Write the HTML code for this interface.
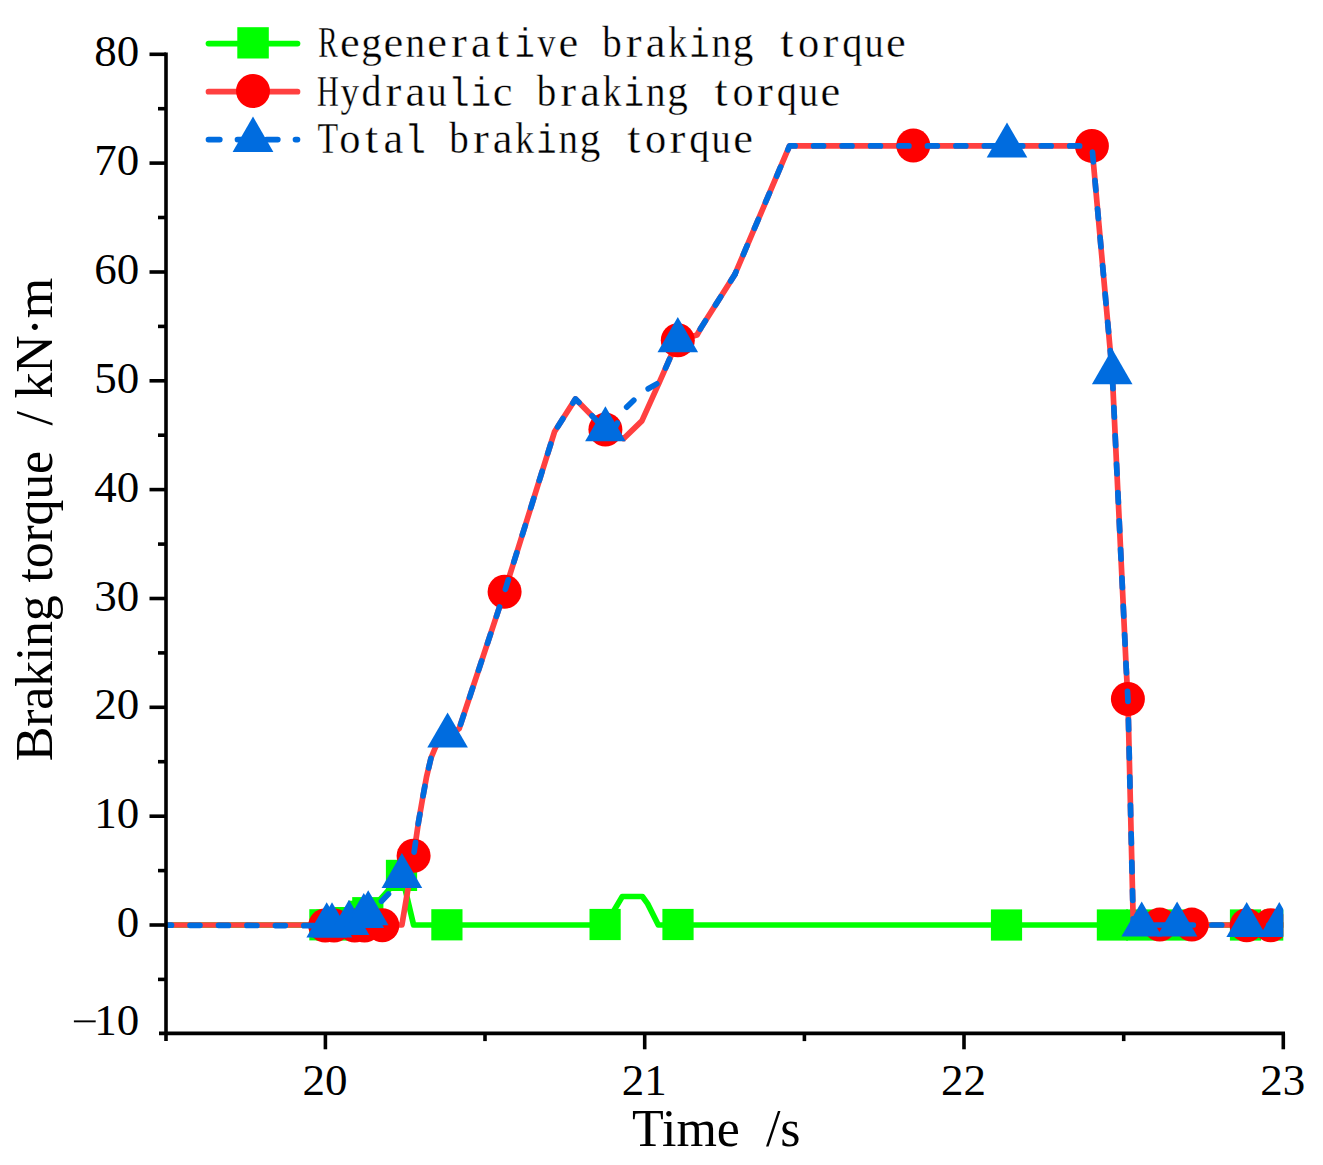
<!DOCTYPE html>
<html><head><meta charset="utf-8"><style>
html,body{margin:0;padding:0;background:#fff;}
svg{display:block;}
</style></head><body>
<svg width="1323" height="1165" viewBox="0 0 1323 1165">
<rect width="1323" height="1165" fill="#fff"/>
<defs><clipPath id="pc"><rect x="166.0" y="40" width="1117.3" height="993.4000000000001"/></clipPath></defs><g clip-path="url(#pc)"><polyline points="100.0,925.0 326.5,925.0 332.0,925.0 349.0,922.6 364.0,916.3 368.2,912.7 401.9,875.4 413.6,925.0 605.4,925.0 622.3,896.5 642.4,896.5 647.7,903.9 658.3,925.0 1300.0,925.0" fill="none" stroke="#00FF00" stroke-width="5.7" stroke-linejoin="round" stroke-linecap="round"/><rect x="309.3" y="909.2" width="31.2" height="31.2" fill="#00FF00"/><rect x="316.4" y="909.4" width="31.2" height="31.2" fill="#00FF00"/><rect x="333.4" y="907.0" width="31.2" height="31.2" fill="#00FF00"/><rect x="348.4" y="900.7" width="31.2" height="31.2" fill="#00FF00"/><rect x="352.2" y="897.1" width="31.2" height="31.2" fill="#00FF00"/><rect x="385.9" y="859.8" width="31.2" height="31.2" fill="#00FF00"/><rect x="431.3" y="909.2" width="31.2" height="31.2" fill="#00FF00"/><rect x="589.5" y="908.9" width="31.2" height="31.2" fill="#00FF00"/><rect x="662.4" y="908.9" width="31.2" height="31.2" fill="#00FF00"/><rect x="990.9" y="909.4" width="31.2" height="31.2" fill="#00FF00"/><rect x="1096.8" y="909.4" width="31.2" height="31.2" fill="#00FF00"/><rect x="1126.1" y="909.4" width="31.2" height="31.2" fill="#00FF00"/><rect x="1161.5" y="909.4" width="31.2" height="31.2" fill="#00FF00"/><rect x="1229.9" y="909.4" width="31.2" height="31.2" fill="#00FF00"/><rect x="1263.7" y="909.4" width="31.2" height="31.2" fill="#00FF00"/><polyline points="100.0,925.0 401.9,925.0 413.6,855.7 418.5,822.0 422.5,799.0 426.5,777.0 431.0,758.0 436.0,746.0 447.6,735.9 456.0,731.0 459.2,728.5 504.6,591.7 554.5,431.8 575.5,398.9 605.4,429.6 623.5,438.7 641.9,420.9 659.3,382.4 677.8,340.3 697.0,335.0 700.9,328.0 734.9,274.4 789.5,145.9 1091.9,145.9 1112.2,372.5 1126.2,668.0 1127.9,699.0 1133.3,925.0 1300.0,925.0" fill="none" stroke="#FF4040" stroke-width="5.7" stroke-linejoin="round" stroke-linecap="round"/><circle cx="325.2" cy="925.5" r="17.0" fill="#FF0000"/><circle cx="334.0" cy="925.5" r="17.0" fill="#FF0000"/><circle cx="354.7" cy="925.5" r="17.0" fill="#FF0000"/><circle cx="364.5" cy="925.5" r="17.0" fill="#FF0000"/><circle cx="382.3" cy="925.2" r="17.0" fill="#FF0000"/><circle cx="413.6" cy="855.7" r="17.0" fill="#FF0000"/><circle cx="504.6" cy="591.7" r="17.0" fill="#FF0000"/><circle cx="605.4" cy="429.6" r="17.0" fill="#FF0000"/><circle cx="677.8" cy="340.3" r="17.0" fill="#FF0000"/><circle cx="913.3" cy="145.5" r="17.0" fill="#FF0000"/><circle cx="1091.9" cy="145.9" r="17.0" fill="#FF0000"/><circle cx="1127.9" cy="699.0" r="17.0" fill="#FF0000"/><circle cx="1159.8" cy="924.6" r="17.0" fill="#FF0000"/><circle cx="1191.8" cy="924.6" r="17.0" fill="#FF0000"/><circle cx="1246.7" cy="925.2" r="17.0" fill="#FF0000"/><circle cx="1270.7" cy="925.2" r="17.0" fill="#FF0000"/><polyline points="100.0,925.0 326.5,925.7 332.0,925.7 349.0,923.2 364.0,916.8 368.2,914.8 390.0,892.5 401.9,876.4 413.6,855.7" fill="none" stroke="#006CDF" stroke-width="5.7" stroke-linejoin="round" stroke-linecap="round" stroke-dasharray="9.90 18.55" stroke-dashoffset="23.75"/><polyline points="413.6,855.7 418.5,822.0 422.5,799.0 426.5,777.0 431.0,758.0 436.0,746.0 447.6,735.9 456.0,731.0 459.2,728.5 504.6,591.7 554.5,431.8 575.5,398.9 605.4,429.6 612.6,433.0 623.5,410.2 641.9,392.4 659.3,382.4 677.8,340.3 697.0,335.0 700.9,328.0 734.9,274.4" fill="none" stroke="#006CDF" stroke-width="5.7" stroke-linejoin="round" stroke-linecap="round" stroke-dasharray="9.90 18.55" stroke-dashoffset="24.82"/><polyline points="734.9,274.4 789.5,145.9 1091.9,145.9 1112.2,372.5 1126.2,668.0 1127.9,699.0 1133.3,925.0" fill="none" stroke="#006CDF" stroke-width="5.7" stroke-linejoin="round" stroke-linecap="round" stroke-dasharray="9.90 18.55" stroke-dashoffset="6.93"/><polyline points="1133.3,925.0 1300.0,925.0" fill="none" stroke="#006CDF" stroke-width="5.7" stroke-linejoin="round" stroke-linecap="round" stroke-dasharray="9.90 18.55" stroke-dashoffset="6.80"/><polygon points="326.7,902.3 347.0,937.4 306.4,937.4" fill="#006CDF"/><polygon points="332.0,902.3 352.3,937.4 311.7,937.4" fill="#006CDF"/><polygon points="349.0,899.8 369.3,934.9 328.7,934.9" fill="#006CDF"/><polygon points="363.8,892.9 384.1,928.0 343.5,928.0" fill="#006CDF"/><polygon points="368.2,890.2 388.5,925.3 347.9,925.3" fill="#006CDF"/><polygon points="401.9,853.0 422.2,888.1 381.6,888.1" fill="#006CDF"/><polygon points="447.6,712.5 467.9,747.6 427.3,747.6" fill="#006CDF"/><polygon points="605.4,406.2 625.7,441.3 585.1,441.3" fill="#006CDF"/><polygon points="677.8,317.1 698.1,352.2 657.5,352.2" fill="#006CDF"/><polygon points="1007.0,122.5 1027.3,157.6 986.7,157.6" fill="#006CDF"/><polygon points="1112.2,349.1 1132.5,384.2 1091.9,384.2" fill="#006CDF"/><polygon points="1141.7,901.5 1162.0,936.6 1121.4,936.6" fill="#006CDF"/><polygon points="1177.1,901.5 1197.4,936.6 1156.8,936.6" fill="#006CDF"/><polygon points="1246.7,902.0 1267.0,937.1 1226.4,937.1" fill="#006CDF"/><polygon points="1279.3,902.0 1299.6,937.1 1259.0,937.1" fill="#006CDF"/></g><g stroke="#000" stroke-width="3.6" stroke-linecap="butt"><line x1="166.0" y1="52.5" x2="166.0" y2="1041.1" /><line x1="159" y1="1033.4" x2="1285" y2="1033.4" /><line x1="149.5" y1="925.0" x2="166.0" y2="925.0" /><line x1="149.5" y1="816.2" x2="166.0" y2="816.2" /><line x1="149.5" y1="707.3" x2="166.0" y2="707.3" /><line x1="149.5" y1="598.5" x2="166.0" y2="598.5" /><line x1="149.5" y1="489.6" x2="166.0" y2="489.6" /><line x1="149.5" y1="380.8" x2="166.0" y2="380.8" /><line x1="149.5" y1="272.0" x2="166.0" y2="272.0" /><line x1="149.5" y1="163.1" x2="166.0" y2="163.1" /><line x1="149.5" y1="54.3" x2="166.0" y2="54.3" /><line x1="158" y1="979.4" x2="166.0" y2="979.4" /><line x1="158" y1="870.6" x2="166.0" y2="870.6" /><line x1="158" y1="761.7" x2="166.0" y2="761.7" /><line x1="158" y1="652.9" x2="166.0" y2="652.9" /><line x1="158" y1="544.1" x2="166.0" y2="544.1" /><line x1="158" y1="435.2" x2="166.0" y2="435.2" /><line x1="158" y1="326.4" x2="166.0" y2="326.4" /><line x1="158" y1="217.5" x2="166.0" y2="217.5" /><line x1="158" y1="108.7" x2="166.0" y2="108.7" /><line x1="325.4" y1="1033.4" x2="325.4" y2="1049.3" /><line x1="644.7" y1="1033.4" x2="644.7" y2="1049.3" /><line x1="964.0" y1="1033.4" x2="964.0" y2="1049.3" /><line x1="1283.3" y1="1033.4" x2="1283.3" y2="1049.3" /><line x1="485.0" y1="1033.4" x2="485.0" y2="1041.1" /><line x1="804.4" y1="1033.4" x2="804.4" y2="1041.1" /><line x1="1123.7" y1="1033.4" x2="1123.7" y2="1041.1" /></g><g font-family="Liberation Serif" font-size="45" fill="#000"><text x="139.3" y="937.0" text-anchor="end">0</text><text x="139.3" y="828.2" text-anchor="end">10</text><text x="139.3" y="719.3" text-anchor="end">20</text><text x="139.3" y="610.5" text-anchor="end">30</text><text x="139.3" y="501.6" text-anchor="end">40</text><text x="139.3" y="392.8" text-anchor="end">50</text><text x="139.3" y="284.0" text-anchor="end">60</text><text x="139.3" y="175.1" text-anchor="end">70</text><text x="139.3" y="66.3" text-anchor="end">80</text><text x="139.3" y="1035.3" text-anchor="end">10</text><rect x="73.9" y="1020.4" width="21.8" height="1.9" fill="#000"/><text x="324.9" y="1094.8" text-anchor="middle">20</text><text x="644.2" y="1094.8" text-anchor="middle">21</text><text x="963.5" y="1094.8" text-anchor="middle">22</text><text x="1282.8" y="1094.8" text-anchor="middle">23</text></g><text x="632" y="1146" font-family="Liberation Serif" font-size="52" fill="#000" xml:space="preserve">Time  /s</text><text transform="translate(51.7,761.3) rotate(-90)" font-family="Liberation Serif" font-size="52" fill="#000" xml:space="preserve" textLength="483.4" lengthAdjust="spacing">Braking torque  / kN&#183;m</text><line x1="208.5" y1="43.6" x2="297.5" y2="43.6" stroke="#00FF00" stroke-width="5.7" stroke-linecap="round"/><rect x="237.3" y="27.2" width="31.5" height="31.3" fill="#00FF00"/><line x1="208.5" y1="91.7" x2="297.5" y2="91.7" stroke="#FF4040" stroke-width="5.7" stroke-linecap="round"/><circle cx="253" cy="91" r="17" fill="#FF0000"/><line x1="208.5" y1="139.6" x2="297.5" y2="139.6" stroke="#006CDF" stroke-width="5.7" stroke-linecap="round" stroke-dasharray="11.3 17.7"/><polygon points="253,116.6 273.4,151.9 232.6,151.9" fill="#006CDF"/><g font-family="Liberation Serif" font-size="44.5" fill="#000" stroke="#fff" stroke-width="0.35"><text x="327.9" y="57.4" text-anchor="middle" transform="translate(327.9,0) scale(0.656,1) translate(-327.9,0)">R</text><text x="349.8" y="57.4" text-anchor="middle" transform="translate(349.8,0) scale(1.000,1) translate(-349.8,0)">e</text><text x="371.6" y="57.4" text-anchor="middle" transform="translate(371.6,0) scale(0.924,1) translate(-371.6,0)">g</text><text x="393.5" y="57.4" text-anchor="middle" transform="translate(393.5,0) scale(1.000,1) translate(-393.5,0)">e</text><text x="415.3" y="57.4" text-anchor="middle" transform="translate(415.3,0) scale(0.876,1) translate(-415.3,0)">n</text><text x="437.2" y="57.4" text-anchor="middle" transform="translate(437.2,0) scale(1.000,1) translate(-437.2,0)">e</text><text x="459.0" y="57.4" text-anchor="middle" transform="translate(459.0,0) scale(1.071,1) translate(-459.0,0)">r</text><text x="480.9" y="57.4" text-anchor="middle" transform="translate(480.9,0) scale(1.000,1) translate(-480.9,0)">a</text><text x="502.7" y="57.4" text-anchor="middle" transform="translate(502.7,0) scale(1.071,1) translate(-502.7,0)">t</text><text x="524.6" y="57.4" text-anchor="middle" font-family="Liberation Mono" transform="translate(524.6,57.4) scale(0.76,0.93) translate(-524.6,-57.4)">i</text><text x="546.4" y="57.4" text-anchor="middle" transform="translate(546.4,0) scale(0.809,1) translate(-546.4,0)">v</text><text x="568.3" y="57.4" text-anchor="middle" transform="translate(568.3,0) scale(1.000,1) translate(-568.3,0)">e</text><text x="612.0" y="57.4" text-anchor="middle" transform="translate(612.0,0) scale(0.876,1) translate(-612.0,0)">b</text><text x="633.8" y="57.4" text-anchor="middle" transform="translate(633.8,0) scale(1.071,1) translate(-633.8,0)">r</text><text x="655.7" y="57.4" text-anchor="middle" transform="translate(655.7,0) scale(1.000,1) translate(-655.7,0)">a</text><text x="677.5" y="57.4" text-anchor="middle" transform="translate(677.5,0) scale(0.841,1) translate(-677.5,0)">k</text><text x="699.4" y="57.4" text-anchor="middle" font-family="Liberation Mono" transform="translate(699.4,57.4) scale(0.76,0.93) translate(-699.4,-57.4)">i</text><text x="721.2" y="57.4" text-anchor="middle" transform="translate(721.2,0) scale(0.876,1) translate(-721.2,0)">n</text><text x="743.1" y="57.4" text-anchor="middle" transform="translate(743.1,0) scale(0.924,1) translate(-743.1,0)">g</text><text x="786.8" y="57.4" text-anchor="middle" transform="translate(786.8,0) scale(1.071,1) translate(-786.8,0)">t</text><text x="808.6" y="57.4" text-anchor="middle" transform="translate(808.6,0) scale(0.954,1) translate(-808.6,0)">o</text><text x="830.5" y="57.4" text-anchor="middle" transform="translate(830.5,0) scale(1.071,1) translate(-830.5,0)">r</text><text x="852.3" y="57.4" text-anchor="middle" transform="translate(852.3,0) scale(0.907,1) translate(-852.3,0)">q</text><text x="874.2" y="57.4" text-anchor="middle" transform="translate(874.2,0) scale(0.861,1) translate(-874.2,0)">u</text><text x="896.0" y="57.4" text-anchor="middle" transform="translate(896.0,0) scale(1.000,1) translate(-896.0,0)">e</text><text x="327.9" y="105.6" text-anchor="middle" transform="translate(327.9,0) scale(0.677,1) translate(-327.9,0)">H</text><text x="349.8" y="105.6" text-anchor="middle" transform="translate(349.8,0) scale(0.836,1) translate(-349.8,0)">y</text><text x="371.6" y="105.6" text-anchor="middle" transform="translate(371.6,0) scale(0.896,1) translate(-371.6,0)">d</text><text x="393.5" y="105.6" text-anchor="middle" transform="translate(393.5,0) scale(1.071,1) translate(-393.5,0)">r</text><text x="415.3" y="105.6" text-anchor="middle" transform="translate(415.3,0) scale(1.000,1) translate(-415.3,0)">a</text><text x="437.2" y="105.6" text-anchor="middle" transform="translate(437.2,0) scale(0.861,1) translate(-437.2,0)">u</text><text x="459.0" y="105.6" text-anchor="middle" font-family="Liberation Mono" transform="translate(459.0,105.6) scale(0.8,0.93) translate(-459.0,-105.6)">l</text><text x="480.9" y="105.6" text-anchor="middle" font-family="Liberation Mono" transform="translate(480.9,105.6) scale(0.76,0.93) translate(-480.9,-105.6)">i</text><text x="502.7" y="105.6" text-anchor="middle" transform="translate(502.7,0) scale(1.000,1) translate(-502.7,0)">c</text><text x="546.4" y="105.6" text-anchor="middle" transform="translate(546.4,0) scale(0.876,1) translate(-546.4,0)">b</text><text x="568.3" y="105.6" text-anchor="middle" transform="translate(568.3,0) scale(1.071,1) translate(-568.3,0)">r</text><text x="590.1" y="105.6" text-anchor="middle" transform="translate(590.1,0) scale(1.000,1) translate(-590.1,0)">a</text><text x="612.0" y="105.6" text-anchor="middle" transform="translate(612.0,0) scale(0.841,1) translate(-612.0,0)">k</text><text x="633.8" y="105.6" text-anchor="middle" font-family="Liberation Mono" transform="translate(633.8,105.6) scale(0.76,0.93) translate(-633.8,-105.6)">i</text><text x="655.7" y="105.6" text-anchor="middle" transform="translate(655.7,0) scale(0.876,1) translate(-655.7,0)">n</text><text x="677.5" y="105.6" text-anchor="middle" transform="translate(677.5,0) scale(0.924,1) translate(-677.5,0)">g</text><text x="721.2" y="105.6" text-anchor="middle" transform="translate(721.2,0) scale(1.071,1) translate(-721.2,0)">t</text><text x="743.1" y="105.6" text-anchor="middle" transform="translate(743.1,0) scale(0.954,1) translate(-743.1,0)">o</text><text x="764.9" y="105.6" text-anchor="middle" transform="translate(764.9,0) scale(1.071,1) translate(-764.9,0)">r</text><text x="786.8" y="105.6" text-anchor="middle" transform="translate(786.8,0) scale(0.907,1) translate(-786.8,0)">q</text><text x="808.6" y="105.6" text-anchor="middle" transform="translate(808.6,0) scale(0.861,1) translate(-808.6,0)">u</text><text x="830.5" y="105.6" text-anchor="middle" transform="translate(830.5,0) scale(1.000,1) translate(-830.5,0)">e</text><text x="327.9" y="153.4" text-anchor="middle" transform="translate(327.9,0) scale(0.761,1) translate(-327.9,0)">T</text><text x="349.8" y="153.4" text-anchor="middle" transform="translate(349.8,0) scale(0.954,1) translate(-349.8,0)">o</text><text x="371.6" y="153.4" text-anchor="middle" transform="translate(371.6,0) scale(1.071,1) translate(-371.6,0)">t</text><text x="393.5" y="153.4" text-anchor="middle" transform="translate(393.5,0) scale(1.000,1) translate(-393.5,0)">a</text><text x="415.3" y="153.4" text-anchor="middle" font-family="Liberation Mono" transform="translate(415.3,153.4) scale(0.8,0.93) translate(-415.3,-153.4)">l</text><text x="459.0" y="153.4" text-anchor="middle" transform="translate(459.0,0) scale(0.876,1) translate(-459.0,0)">b</text><text x="480.9" y="153.4" text-anchor="middle" transform="translate(480.9,0) scale(1.071,1) translate(-480.9,0)">r</text><text x="502.7" y="153.4" text-anchor="middle" transform="translate(502.7,0) scale(1.000,1) translate(-502.7,0)">a</text><text x="524.6" y="153.4" text-anchor="middle" transform="translate(524.6,0) scale(0.841,1) translate(-524.6,0)">k</text><text x="546.4" y="153.4" text-anchor="middle" font-family="Liberation Mono" transform="translate(546.4,153.4) scale(0.76,0.93) translate(-546.4,-153.4)">i</text><text x="568.3" y="153.4" text-anchor="middle" transform="translate(568.3,0) scale(0.876,1) translate(-568.3,0)">n</text><text x="590.1" y="153.4" text-anchor="middle" transform="translate(590.1,0) scale(0.924,1) translate(-590.1,0)">g</text><text x="633.8" y="153.4" text-anchor="middle" transform="translate(633.8,0) scale(1.071,1) translate(-633.8,0)">t</text><text x="655.7" y="153.4" text-anchor="middle" transform="translate(655.7,0) scale(0.954,1) translate(-655.7,0)">o</text><text x="677.5" y="153.4" text-anchor="middle" transform="translate(677.5,0) scale(1.071,1) translate(-677.5,0)">r</text><text x="699.4" y="153.4" text-anchor="middle" transform="translate(699.4,0) scale(0.907,1) translate(-699.4,0)">q</text><text x="721.2" y="153.4" text-anchor="middle" transform="translate(721.2,0) scale(0.861,1) translate(-721.2,0)">u</text><text x="743.1" y="153.4" text-anchor="middle" transform="translate(743.1,0) scale(1.000,1) translate(-743.1,0)">e</text></g>
</svg>
</body></html>
